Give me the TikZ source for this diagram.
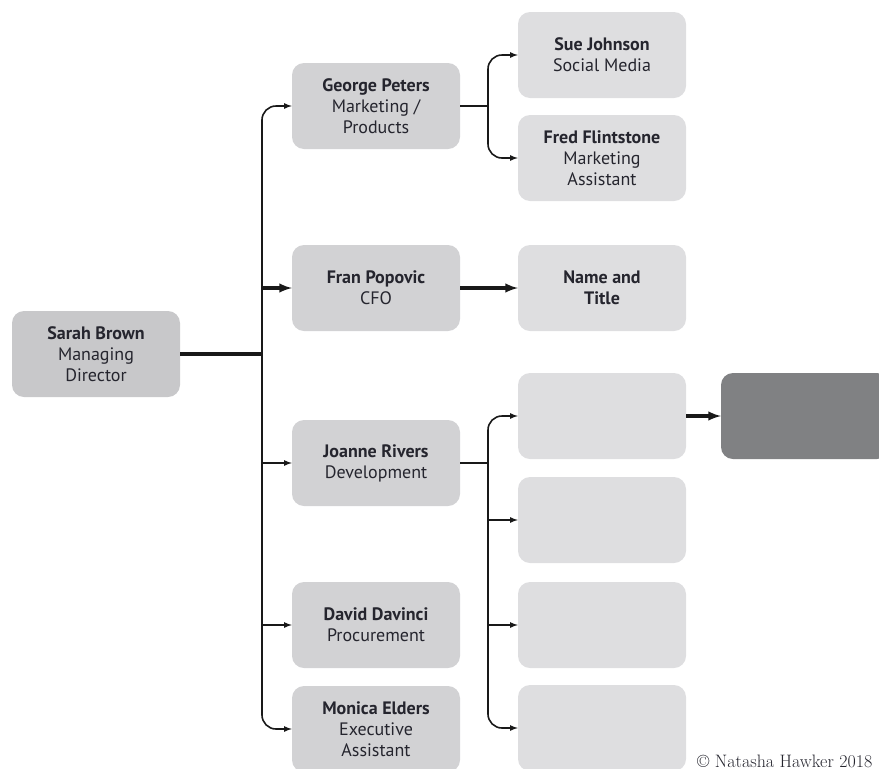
\documentclass[tikz,border=0pt]{standalone}
\usepackage{fontspec}
\setsansfont{PT Sans}
\usepackage{tikz}
\usetikzlibrary{positioning,arrows}

\definecolor{boxA}{HTML}{C8C8CA}
\definecolor{boxB}{HTML}{D2D2D4}
\definecolor{boxC}{HTML}{DEDEE0}
\definecolor{boxD}{HTML}{808183}
\definecolor{ink}{HTML}{25252E}

\begin{document}
\begin{tikzpicture}[
    x = 1pt,
    y = -1pt,
    person/.style={
        draw = none,
        rounded corners = 12pt,
        minimum width = 168pt,
        minimum height = 86pt,
        align = center,
        text = ink,
        font = \sffamily\fontsize{18}{21}\selectfont
    },
    md/.style={person, fill = boxA},
    mgr/.style={person, fill = boxB},
    staff/.style={person, fill = boxC},
    head/.style={person, fill = boxD},
    link/.style={line width = 1.6pt, draw = black!90},
    bold link/.style={line width = 3.2pt, draw = black!90},
    >=latex
]

\clip (0,0) rectangle (879,769);

% people
\node[md] (sarah) at (96,354) {\textbf{Sarah Brown}\\Managing\\Director};

\node[mgr] (george) at (376,106) {\textbf{George Peters}\\Marketing /\\Products};
\node[mgr] (fran) at (376,288) {\textbf{Fran Popovic}\\CFO};
\node[mgr] (joanne) at (376,463) {\textbf{Joanne Rivers}\\Development};
\node[mgr] (david) at (376,625) {\textbf{David Davinci}\\Procurement};
\node[mgr] (monica) at (376,729) {\textbf{Monica Elders}\\Executive\\Assistant};

\node[staff] (sue) at (602,55) {\textbf{Sue Johnson}\\Social Media};
\node[staff] (fred) at (602,158) {\textbf{Fred Flintstone}\\Marketing\\Assistant};
\node[staff] (title) at (602,288) {\textbf{Name and}\\\textbf{Title}};
\foreach \y [count=\i] in {416,520,625,728}
    \node[staff] (e\i) at (602,\y) {};
\node[head] (chief) at (805,416) {};

\node[anchor=base west, font=\fontsize{18}{20}\selectfont, text=ink, inner sep=0pt]
    (copy) at (697,767) {\textcopyright\ Natasha Hawker 2018};

% connectors
\coordinate (trunk) at (262,354);
\coordinate (gb) at (488,106);
\coordinate (jb) at (488,463);

\draw[bold link] (sarah.east) -- (trunk);
\draw[->, link, rounded corners=14pt] (trunk) |- (george.west);
\draw[->, link, rounded corners=14pt] (trunk) |- (monica.west);
\draw[->, bold link] (trunk |- fran.west) -- (fran.west);
\foreach \m in {joanne,david}
    \draw[->, link] (trunk |- \m.west) -- (\m.west);

\draw[link] (george.east) -- (gb);
\foreach \m in {sue,fred}
    \draw[->, link, rounded corners=14pt] (gb) |- (\m.west);

\draw[->, bold link] (fran.east) -- (title.west);

\draw[link] (joanne.east) -- (jb);
\foreach \m in {e1,e4}
    \draw[->, link, rounded corners=14pt] (jb) |- (\m.west);
\foreach \m in {e2,e3}
    \draw[->, link] (jb |- \m.west) -- (\m.west);

\draw[->, bold link] (e1.east) -- (chief.west);

\end{tikzpicture}
\end{document}
